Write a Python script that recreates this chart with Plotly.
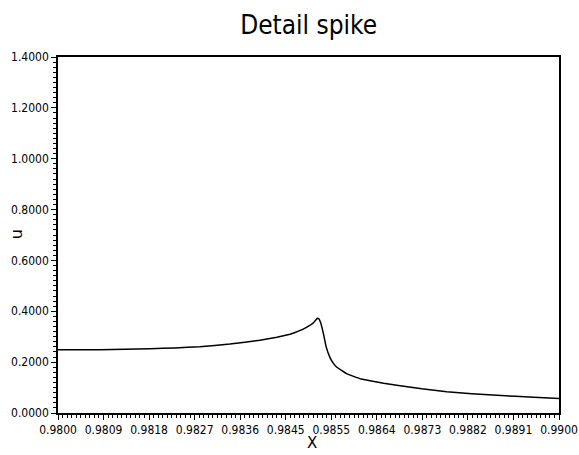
import plotly.graph_objects as go

# Data
x_vals = [0.98000, 0.98084, 0.98134, 0.98184, 0.98234, 0.98283, 0.98343, 0.98403,
          0.98437, 0.98463, 0.98480, 0.98496, 0.98510, 0.98514, 0.98518, 0.98521,
          0.98524, 0.98527, 0.98530, 0.98535, 0.98543, 0.98549, 0.98556, 0.98576,
          0.98590, 0.98603, 0.98623, 0.98650, 0.98676, 0.98726, 0.98776, 0.98826,
          0.98876, 0.98950, 0.99000]
u_vals = [0.249, 0.2492, 0.2505, 0.2525, 0.256, 0.261, 0.271, 0.286,
          0.2975, 0.3095, 0.322, 0.337, 0.355, 0.365, 0.373, 0.370,
          0.357, 0.336, 0.310, 0.262, 0.218, 0.197, 0.181, 0.155,
          0.144, 0.135, 0.127, 0.117, 0.109, 0.095, 0.0835, 0.076,
          0.0695, 0.062, 0.0566]

x_tick_vals = [0.98 + k * 0.01 / 11 for k in range(12)]
x_tick_text = ["0.9800", "0.9809", "0.9818", "0.9827", "0.9836", "0.9845",
               "0.9855", "0.9864", "0.9873", "0.9882", "0.9891", "0.9900"]
y_tick_vals = [0.0, 0.2, 0.4, 0.6, 0.8, 1.0, 1.2, 1.4]
y_tick_text = ["0.0000", "0.2000", "0.4000", "0.6000", "0.8000", "1.0000", "1.2000", "1.4000"]

tick_font = dict(family="DejaVu Sans Condensed, sans-serif", size=12, color="black")

fig = go.Figure(go.Scatter(x=x_vals, y=u_vals, mode="lines",
                           line=dict(color="black", width=1.5, shape="spline", smoothing=0.15),
                           showlegend=False))

fig.update_layout(
    width=579, height=455,
    margin=dict(l=58, r=20, t=57, b=42, autoexpand=False),
    paper_bgcolor="white", plot_bgcolor="white",
    title=dict(text="Detail spike", x=0.533, xanchor="center", y=0.945, yanchor="middle",
               font=dict(family="DejaVu Sans Condensed, sans-serif", size=26, color="black")),
    xaxis=dict(range=[0.98, 0.99], tickvals=x_tick_vals, ticktext=x_tick_text,
               ticks="outside", ticklen=5, tickwidth=1.2, tickcolor="black",
               showline=True, linecolor="black", linewidth=1.5, mirror=True,
               showgrid=False, zeroline=False, tickfont=tick_font, automargin=False,
               tickangle=0,
               minor=dict(tick0=0.98, dtick=0.01 / 110, ticks="outside", ticklen=3,
                          tickwidth=1, tickcolor="black", showgrid=False)),
    yaxis=dict(range=[0, 1.4], tickvals=y_tick_vals, ticktext=y_tick_text,
               ticks="outside", ticklen=5, tickwidth=1.2, tickcolor="black",
               showline=True, linecolor="black", linewidth=1.5, mirror=True,
               showgrid=False, zeroline=False, tickfont=tick_font, automargin=False,
               minor=dict(tick0=0, dtick=0.02, ticks="outside", ticklen=3,
                          tickwidth=1, tickcolor="black", showgrid=False)),
    annotations=[
        dict(text="u", xref="paper", yref="paper", x=-0.081, y=0.503,
             xanchor="center", yanchor="middle", textangle=-90, showarrow=False,
             font=dict(family="DejaVu Sans, sans-serif", size=16, color="black")),
        dict(text="X", xref="paper", yref="paper", x=0.507, y=-0.085,
             xanchor="center", yanchor="middle", showarrow=False,
             font=dict(family="DejaVu Sans, sans-serif", size=15, color="black")),
    ],
)

fig.write_html("out.html")
